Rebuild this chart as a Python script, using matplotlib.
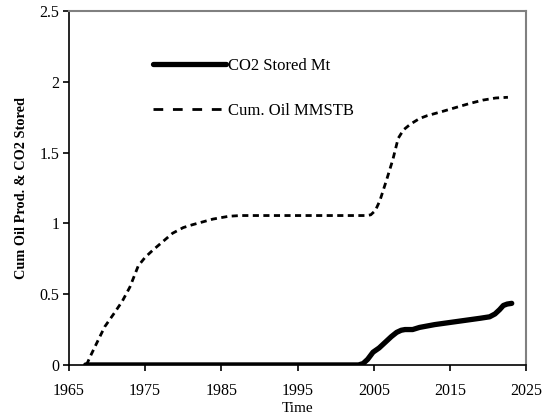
import matplotlib
matplotlib.use('Agg')
import matplotlib.pyplot as plt

plt.rcParams['font.family'] = ['Liberation Serif', 'DejaVu Serif']

# CO2 stored (Mt)
co2_years = [1967.2, 1975, 1985, 1995, 2003.0, 2003.6, 2004.2, 2004.9, 2005.7, 2006.5, 2007.3,
             2008.0, 2008.6, 2009.1, 2010.1, 2011, 2013, 2015, 2017, 2019, 2020.2,
             2020.9, 2021.5, 2022.0, 2022.5, 2023.1]
co2_vals = [0, 0, 0, 0, 0, 0.01, 0.04, 0.09, 0.12, 0.16, 0.20,
            0.23, 0.245, 0.25, 0.25, 0.265, 0.285, 0.30, 0.315, 0.33, 0.34,
            0.36, 0.39, 0.42, 0.43, 0.435]

# cumulative oil (MMSTB)
oil_years = [1967.3, 1967.8, 1968.7, 1969.7, 1971.0, 1972.0, 1973.0, 1974.1, 1975.0, 1976.0,
             1977.3, 1978.6, 1980.0, 1981.2, 1983.9, 1986.0, 1987.5, 1990, 1995, 2000, 2004.0,
             2004.6, 2005.2, 2005.8, 2006.7, 2007.5, 2008.2, 2008.9, 2009.8, 2011, 2012,
             2014, 2015.9, 2017.5, 2019.3, 2021, 2022.6]
oil_vals = [0.0, 0.06, 0.16, 0.27, 0.37, 0.45, 0.55, 0.70, 0.76, 0.81,
            0.87, 0.93, 0.97, 0.99, 1.03, 1.05, 1.055, 1.055, 1.055, 1.055, 1.055,
            1.06, 1.09, 1.16, 1.31, 1.45, 1.60, 1.66, 1.70, 1.74, 1.76,
            1.79, 1.82, 1.845, 1.87, 1.885, 1.89]

fig = plt.figure(figsize=(5.47, 4.19), dpi=100)
ax = fig.add_axes([0.126, 0.129, 0.836, 0.845])

ax.plot(co2_years, co2_vals, color='black', lw=3.8, solid_capstyle='round',
        label='CO2 Stored Mt')
ax.plot(oil_years, oil_vals, color='black', lw=2.0, dashes=(2.2, 1.6),
        label='Cum. Oil MMSTB')

ax.set_xlim(1965, 2025)
ax.set_ylim(0, 2.5)
ax.set_xticks([1965, 1975, 1985, 1995, 2005, 2015, 2025])
ax.set_yticks([0, 0.5, 1, 1.5, 2, 2.5])
ax.set_yticklabels(['0', '0.5', '1', '1.5', '2', '2.5'])
ax.tick_params(direction='out', length=4, width=1.2, labelsize=11.5, pad=3)
ax.tick_params(axis='x', pad=9)

for s in ['top', 'right']:
    ax.spines[s].set_color('#808080')
    ax.spines[s].set_linewidth(1.5)
for s in ['left', 'bottom']:
    ax.spines[s].set_color('black')
    ax.spines[s].set_linewidth(1.2)

ax.set_xlabel('Time', fontsize=11, labelpad=2)
ax.set_ylabel('Cum Oil Prod. & CO2 Stored', fontsize=10.3, fontweight='bold', labelpad=8)

leg = ax.legend(loc='upper left', bbox_to_anchor=(0.184, 0.868), frameon=False,
                handlelength=4.4, handletextpad=0.1, labelspacing=1.75,
                borderpad=0, borderaxespad=0, fontsize=12)
leg.get_lines()[1].set_dashes((3.5, 3.5))

fig.savefig('out.png', dpi=100)
